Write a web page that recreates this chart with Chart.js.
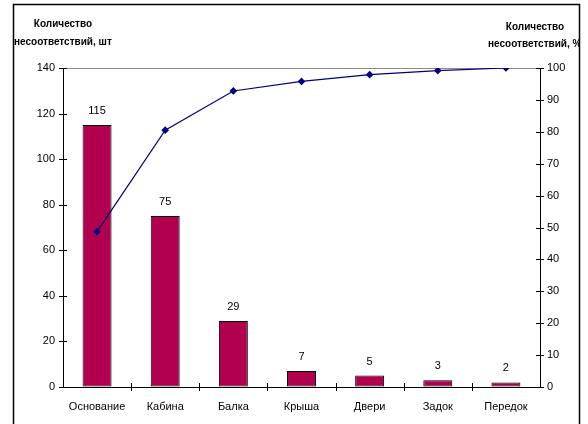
<!DOCTYPE html>
<html>
<head>
<meta charset="utf-8">
<script src="https://cdn.jsdelivr.net/npm/chart.js@4"></script>
<style>
  html, body { margin: 0; padding: 0; background: #fff; }
  #wrap { width: 588px; height: 424px; }
</style>
</head>
<body>
<div id="wrap"><canvas id="pareto" width="588" height="424"></canvas></div>
<script>
// дефекты по узлам и накопленный процент
const categories = ['Основание', 'Кабина', 'Балка', 'Крыша', 'Двери', 'Задок', 'Передок'];
const counts = [115, 75, 29, 7, 5, 3, 2];
const cumulativePct = [48.7, 80.5, 92.8, 95.8, 97.9, 99.2, 100];
const leftTicks = [0, 20, 40, 60, 80, 100, 120, 140];
const rightTicks = [0, 10, 20, 30, 40, 50, 60, 70, 80, 90, 100];

const FONT = "'Liberation Sans Narrow', 'Liberation Sans', Arial, sans-serif";

// подписи значений, засечки, заголовки осей и рамка
const decorations = {
  id: 'decorations',
  afterDraw(chart) {
    const ctx = chart.ctx;
    const y = chart.scales.y, y1 = chart.scales.y1;
    const area = chart.chartArea;
    ctx.save();
    ctx.strokeStyle = '#000';
    ctx.lineWidth = 1;

    // засечки, пересекающие оси
    ctx.beginPath();
    leftTicks.forEach(v => {
      const py = Math.round(y.getPixelForValue(v)) + 0.5;
      ctx.moveTo(area.left - 4, py); ctx.lineTo(area.left + 4, py);
    });
    rightTicks.forEach(v => {
      const py = Math.round(y1.getPixelForValue(v)) + 0.5;
      ctx.moveTo(area.right - 4, py); ctx.lineTo(area.right + 4, py);
    });
    const step = (area.right - area.left) / categories.length;
    for (let i = 1; i < categories.length; i++) {
      const px = Math.round(area.left + step * i) + 0.5;
      ctx.moveTo(px, area.bottom - 4); ctx.lineTo(px, area.bottom + 4);
    }
    ctx.stroke();

    // значения над столбцами
    ctx.fillStyle = '#000';
    ctx.font = '11px ' + FONT;
    ctx.textAlign = 'center';
    ctx.textBaseline = 'middle';
    chart.getDatasetMeta(1).data.forEach((bar, i) => {
      ctx.fillText(String(counts[i]), bar.x, bar.y - 14);
    });

    // заголовки осей
    ctx.font = 'bold 10px ' + FONT;
    ctx.fillText('Количество', 63, 24);
    ctx.textAlign = 'left';
    ctx.fillText('несоответствий, шт', 14, 42);
    ctx.textAlign = 'center';
    ctx.fillText('Количество', 535, 27);
    ctx.save();
    ctx.beginPath();
    ctx.rect(0, 0, 579, 424);
    ctx.clip();
    ctx.textAlign = 'left';
    ctx.fillText('несоответствий, %', 488, 44);
    ctx.restore();

    // рамка диаграммы
    ctx.strokeStyle = '#000';
    ctx.lineWidth = 1.5;
    ctx.strokeRect(13.5, 4.5, 566, 440);
    ctx.restore();
  }
};

new Chart(document.getElementById('pareto'), {
  data: {
    labels: categories,
    datasets: [
      {
        type: 'line',
        data: cumulativePct,
        yAxisID: 'y1',
        borderColor: '#000080',
        backgroundColor: '#000080',
        borderWidth: 1.2,
        pointStyle: 'rectRot',
        pointRadius: 3,
        tension: 0,
        order: 0
      },
      {
        type: 'bar',
        data: counts,
        yAxisID: 'y',
        backgroundColor: '#B0004E',
        borderColor: '#000',
        borderWidth: 1,
        borderSkipped: false,
        barPercentage: 0.85,
        categoryPercentage: 0.5,
        order: 1
      }
    ]
  },
  options: {
    responsive: false,
    animation: false,
    layout: { padding: { top: 68, left: 13, right: 8, bottom: 0 } },
    plugins: { legend: { display: false }, tooltip: { enabled: false } },
    scales: {
      x: {
        grid: { display: false, drawTicks: false },
        border: { color: '#000', width: 1 },
        ticks: { color: '#000', font: { family: FONT, size: 11 }, padding: 13, maxRotation: 0 },
        afterFit(s) { s.height = 37; }
      },
      y: {
        position: 'left',
        min: 0, max: 140,
        afterBuildTicks(s) { s.ticks = leftTicks.map(v => ({ value: v })); },
        grid: {
          drawTicks: false,
          color: c => (c.tick && c.tick.value === 140 ? '#8c8c8c' : 'rgba(0,0,0,0)')
        },
        border: { color: '#000', width: 1 },
        ticks: { color: '#000', font: { family: FONT, size: 11 }, padding: 8 },
        afterFit(s) { s.width = 50; }
      },
      y1: {
        position: 'right',
        min: 0, max: 100,
        afterBuildTicks(s) { s.ticks = rightTicks.map(v => ({ value: v })); },
        grid: { drawOnChartArea: false, drawTicks: false },
        border: { color: '#000', width: 1 },
        ticks: { color: '#000', font: { family: FONT, size: 11 }, padding: 7 },
        afterFit(s) { s.width = 40; }
      }
    }
  },
  plugins: [decorations]
});
</script>
</body>
</html>
